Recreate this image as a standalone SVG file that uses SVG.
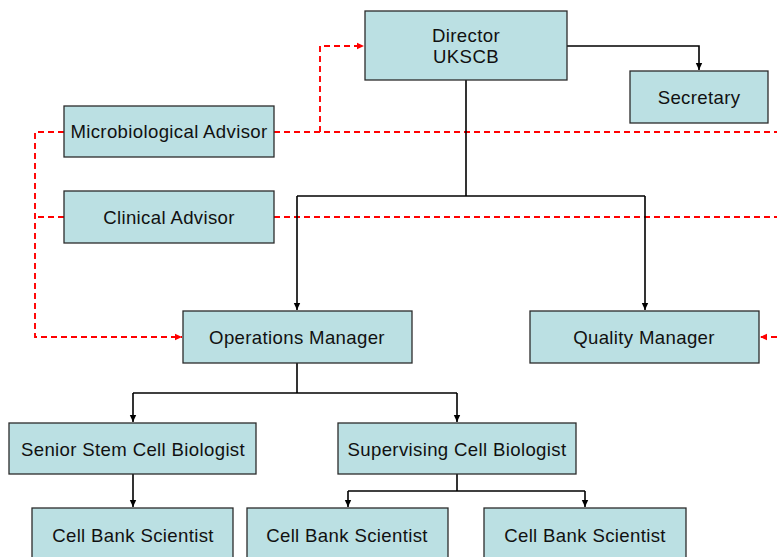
<svg xmlns="http://www.w3.org/2000/svg" width="777" height="557" viewBox="0 0 777 557">
  <style>
    .box rect { fill: #bbe0e3; stroke: #2b2b2b; stroke-width: 1.3; }
    .box text { font-family: "Liberation Sans", Arial, sans-serif; font-size: 18.6px; letter-spacing: 0.35px; fill: #111; text-anchor: middle; }
    .line { fill: none; stroke: #000; stroke-width: 1.6; }
    .dash { fill: none; stroke: #ff0000; stroke-width: 1.9; stroke-dasharray: 6 4; }
  </style>
  <defs>
    <marker id="arrow" markerUnits="userSpaceOnUse" markerWidth="8" markerHeight="8" refX="7" refY="4" orient="auto">
      <path d="M0,0.8 L7,4 L0,7.2 z" fill="#000"/>
    </marker>
    <marker id="arrowRed" markerUnits="userSpaceOnUse" markerWidth="8" markerHeight="8" refX="7" refY="4" orient="auto">
      <path d="M0,0.8 L7,4 L0,7.2 z" fill="#ff0000"/>
    </marker>
  </defs>
  <rect width="777" height="557" fill="#fff"/>

  <!-- connectors -->
  <g id="connectors">
    <!-- advisory (dashed) links -->
    <path class="dash" d="M274,132 H777"/>
    <path class="dash" d="M320,132 V46 H364" marker-end="url(#arrowRed)"/>
    <path class="dash" d="M64,132 H35 V337 H182" marker-end="url(#arrowRed)"/>
    <path class="dash" d="M64,217 H35"/>
    <path class="dash" d="M274,217 H777"/>
    <path class="dash" d="M777,337 H760" marker-end="url(#arrowRed)"/>

    <!-- reporting lines -->
    <path class="line" d="M466,80 V196"/>
    <path class="line" d="M297,196 H645"/>
    <path class="line" d="M297,196 V310" marker-end="url(#arrow)"/>
    <path class="line" d="M645,196 V310" marker-end="url(#arrow)"/>
    <path class="line" d="M567,46 H699 V70" marker-end="url(#arrow)"/>

    <path class="line" d="M297,363 V393"/>
    <path class="line" d="M133,393 H457"/>
    <path class="line" d="M133,393 V422" marker-end="url(#arrow)"/>
    <path class="line" d="M457,393 V422" marker-end="url(#arrow)"/>

    <path class="line" d="M133,474 V507" marker-end="url(#arrow)"/>

    <path class="line" d="M457,474 V491"/>
    <path class="line" d="M348,491 H585"/>
    <path class="line" d="M348,491 V507" marker-end="url(#arrow)"/>
    <path class="line" d="M585,491 V507" marker-end="url(#arrow)"/>
  </g>

  <!-- nodes -->
  <g id="director" class="box">
    <rect x="365" y="11" width="202" height="69"/>
    <text x="466" y="42">Director</text>
    <text x="466" y="63">UKSCB</text>
  </g>
  <g id="secretary" class="box">
    <rect x="630" y="71" width="138" height="52"/>
    <text x="699" y="104">Secretary</text>
  </g>
  <g id="micro-advisor" class="box">
    <rect x="64" y="106" width="210" height="51"/>
    <text x="169" y="138">Microbiological Advisor</text>
  </g>
  <g id="clinical-advisor" class="box">
    <rect x="64" y="191" width="210" height="52"/>
    <text x="169" y="224">Clinical Advisor</text>
  </g>
  <g id="operations-manager" class="box">
    <rect x="183" y="311" width="229" height="52"/>
    <text x="297" y="344">Operations Manager</text>
  </g>
  <g id="quality-manager" class="box">
    <rect x="530" y="311" width="229" height="52"/>
    <text x="644" y="344">Quality Manager</text>
  </g>
  <g id="senior-biologist" class="box">
    <rect x="9" y="423" width="247" height="51"/>
    <text x="133" y="456">Senior Stem Cell Biologist</text>
  </g>
  <g id="supervising-biologist" class="box">
    <rect x="338" y="423" width="238" height="51"/>
    <text x="457" y="456">Supervising Cell Biologist</text>
  </g>
  <g id="scientist-1" class="box">
    <rect x="32" y="508" width="201" height="60"/>
    <text x="133" y="542">Cell Bank Scientist</text>
  </g>
  <g id="scientist-2" class="box">
    <rect x="247" y="508" width="201" height="60"/>
    <text x="347" y="542">Cell Bank Scientist</text>
  </g>
  <g id="scientist-3" class="box">
    <rect x="484" y="508" width="202" height="60"/>
    <text x="585" y="542">Cell Bank Scientist</text>
  </g>
</svg>
